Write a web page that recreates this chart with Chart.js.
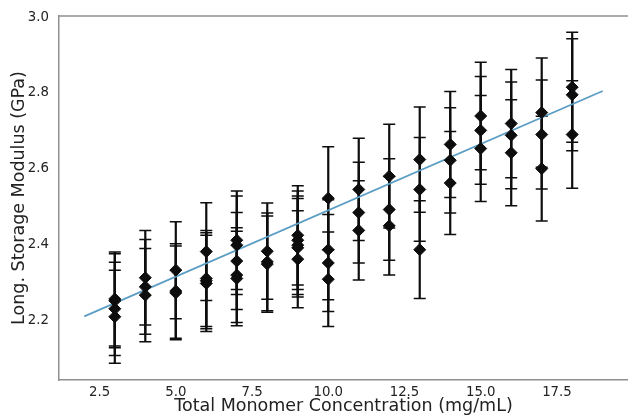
<!DOCTYPE html>
<html>
<head>
<meta charset="utf-8">
<script src="https://cdn.jsdelivr.net/npm/chart.js@4/dist/chart.umd.min.js"></script>
<style>
  html, body { margin: 0; padding: 0; background: #fff; overflow: hidden; }
  canvas { display: block; }
</style>
</head>
<body>
<canvas id="chart" width="628" height="417"></canvas>
<script>
// concentrations (mg/mL) and replicate moduli (GPa) with their errors
const concentration = [3, 4, 5, 6, 7, 8, 9, 10, 11, 12, 13, 14, 15, 16, 17, 18];
const modulus = [
    [2.256, 2.251, 2.230, 2.209],
    [2.312, 2.288, 2.266],
    [2.332, 2.277, 2.272],
    [2.381, 2.310, 2.304, 2.297],
    [2.411, 2.398, 2.356, 2.319, 2.310],
    [2.382, 2.354, 2.348],
    [2.424, 2.411, 2.398, 2.391, 2.361],
    [2.522, 2.386, 2.351, 2.308],
    [2.545, 2.484, 2.437],
    [2.580, 2.492, 2.449],
    [2.624, 2.545, 2.386],
    [2.664, 2.622, 2.562],
    [2.739, 2.701, 2.653],
    [2.719, 2.688, 2.642],
    [2.748, 2.690, 2.600],
    [2.815, 2.795, 2.690],
];
const modulusErr = [
    [0.124, 0.124, 0.123, 0.123],
    [0.125, 0.125, 0.123],
    [0.128, 0.125, 0.124],
    [0.129, 0.127, 0.127, 0.127],
    [0.130, 0.130, 0.128, 0.125, 0.125],
    [0.127, 0.129, 0.127],
    [0.131, 0.130, 0.130, 0.130, 0.128],
    [0.136, 0.132, 0.128, 0.125],
    [0.135, 0.133, 0.131],
    [0.137, 0.134, 0.130],
    [0.139, 0.137, 0.129],
    [0.140, 0.139, 0.136],
    [0.142, 0.142, 0.140],
    [0.143, 0.141, 0.140],
    [0.144, 0.144, 0.138],
    [0.145, 0.148, 0.142],
];

// linear fit endpoints
const fitX = [2, 19];
const fitY = [2.21, 2.805];

const xTicks = [2.5, 5.0, 7.5, 10.0, 12.5, 15.0, 17.5];
const yTicks = [2.2, 2.4, 2.6, 2.8, 3.0];

const points = [];
concentration.forEach((c, i) => {
    modulus[i].forEach(v => points.push({ x: c, y: v }));
});

const ink = '#0d0d0d';
const spine = '#8f8f8f';
const labelColor = '#222';
const font = 'DejaVu Sans';

const errorBars = {
    id: 'errorBars',
    beforeDatasetsDraw(chart) {
        const { ctx } = chart;
        const x = chart.scales.x;
        const y = chart.scales.y;
        const cap = 6;
        ctx.save();
        ctx.strokeStyle = ink;
        concentration.forEach((c, i) => {
            const px = x.getPixelForValue(c);
            modulus[i].forEach((v, j) => {
                const e = modulusErr[i][j];
                const top = y.getPixelForValue(v + e);
                const bot = y.getPixelForValue(v - e);
                ctx.lineWidth = 2.2;
                ctx.beginPath();
                ctx.moveTo(px, top);
                ctx.lineTo(px, bot);
                ctx.stroke();
                ctx.lineWidth = 1.5;
                ctx.beginPath();
                ctx.moveTo(px - cap, top);
                ctx.lineTo(px + cap, top);
                ctx.moveTo(px - cap, bot);
                ctx.lineTo(px + cap, bot);
                ctx.stroke();
            });
        });
        ctx.restore();
    },
    afterDraw(chart) {
        // top spine
        const { ctx, chartArea } = chart;
        ctx.save();
        ctx.strokeStyle = spine;
        ctx.lineWidth = 1.5;
        ctx.beginPath();
        ctx.moveTo(chartArea.left, chartArea.top);
        ctx.lineTo(chartArea.right, chartArea.top);
        ctx.stroke();
        ctx.restore();
    }
};

new Chart(document.getElementById('chart'), {
    type: 'scatter',
    data: {
        datasets: [
            {
                type: 'line',
                data: fitX.map((v, i) => ({ x: v, y: fitY[i] })),
                borderColor: '#5b9dc3',
                borderWidth: 1.8,
                pointRadius: 0,
                fill: false,
                order: 2,
            },
            {
                data: points,
                pointStyle: 'rectRot',
                pointRadius: 6,
                pointBackgroundColor: ink,
                pointBorderColor: ink,
                pointBorderWidth: 1,
                order: 1,
            },
        ]
    },
    options: {
        responsive: false,
        devicePixelRatio: 1,
        animation: false,
        layout: {
            autoPadding: false,
            padding: { top: 16, right: 0, left: 0, bottom: 0 },
        },
        plugins: {
            legend: { display: false },
            tooltip: { enabled: false },
        },
        scales: {
            x: {
                type: 'linear',
                min: 1.17,
                max: 19.83,
                afterFit(scale) {
                    scale.height = 37;
                    scale.paddingLeft = 0;
                    scale.paddingRight = 0;
                },
                afterBuildTicks(scale) { scale.ticks = xTicks.map(v => ({ value: v })); },
                grid: { display: false, drawTicks: false },
                border: { display: true, color: spine, width: 1.5 },
                ticks: {
                    padding: 5,
                    color: labelColor,
                    font: { family: font, size: 13.3 },
                    callback: v => v.toFixed(1),
                },
                title: {
                    display: true,
                    text: 'Total Monomer Concentration (mg/mL)',
                    color: labelColor,
                    font: { family: font, size: 17.5 },
                    padding: { top: 0, bottom: 0 },
                },
            },
            y: {
                type: 'linear',
                min: 2.042,
                max: 3.003,
                afterFit(scale) {
                    scale.width = 59;
                    scale.paddingTop = 0;
                    scale.paddingBottom = 0;
                },
                afterBuildTicks(scale) { scale.ticks = yTicks.map(v => ({ value: v })); },
                grid: { display: false, drawTicks: false },
                border: { display: true, color: spine, width: 1.5 },
                ticks: {
                    padding: 10,
                    color: labelColor,
                    font: { family: font, size: 13.3 },
                    callback: v => v.toFixed(1),
                },
                title: {
                    display: true,
                    text: 'Long. Storage Modulus (GPa)',
                    color: labelColor,
                    font: { family: font, size: 17.5 },
                    padding: { top: 8.5, bottom: 0 },
                },
            },
        },
    },
    plugins: [errorBars],
});
</script>
</body>
</html>
